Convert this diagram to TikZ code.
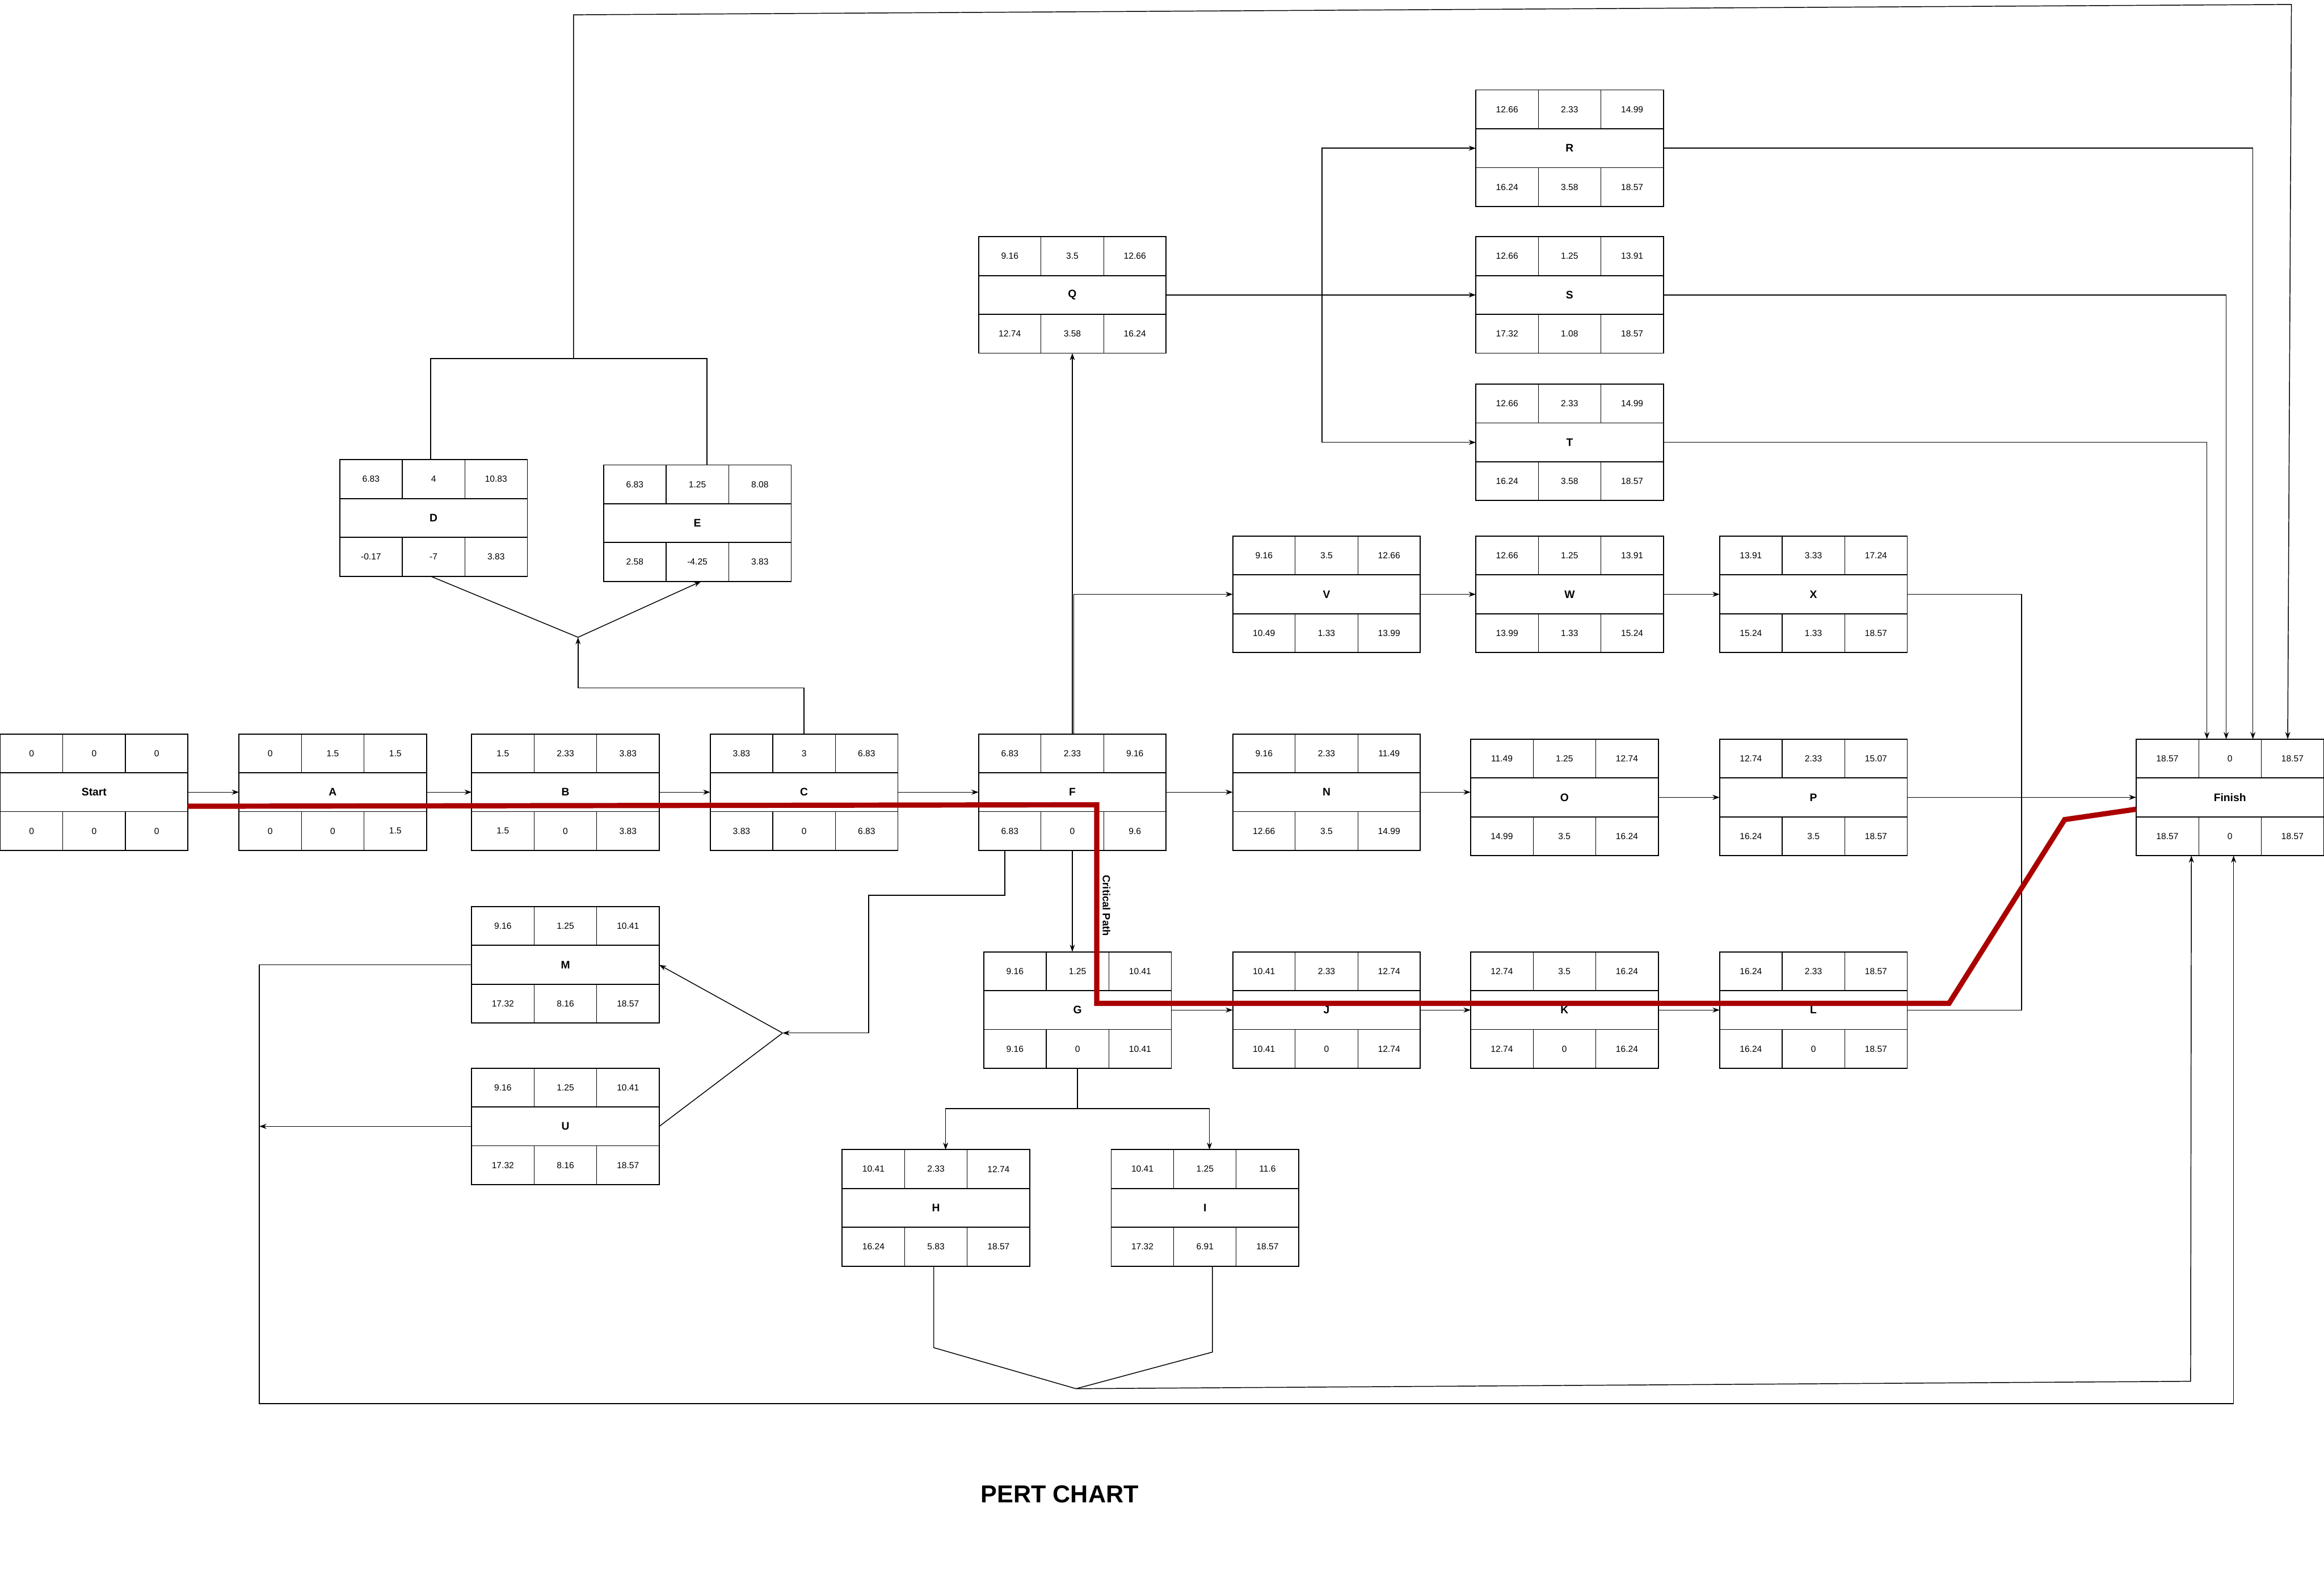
\documentclass[tikz,border=0pt]{standalone}
\usepackage{fontspec}
\setmainfont{Liberation Sans}
\definecolor{critred}{RGB}{170,0,0}
\usetikzlibrary{arrows.meta,calc}

\tikzset{
  pbox/.style={draw, line width=1pt, minimum width=6.33cm, minimum height=3.93cm,
    inner sep=0pt, outer sep=0pt, font=\fontsize{10.5}{12}\selectfont\bfseries},
  rowline/.style={line width=1pt},
  colline/.style={line width=0.6pt},
  num/.style={inner sep=0pt, font=\fontsize{8.5}{10}\selectfont},
  link/.style={line width=0.8pt},
  arr/.style={link, -{Stealth[length=2.4mm,width=1.7mm]}},
  crit/.style={draw=critred, line width=5pt, line join=miter},
  critlabel/.style={fill=white, inner sep=1pt, font=\fontsize{10}{12}\selectfont\bfseries},
  charttitle/.style={font=\fontsize{23.5}{26}\selectfont\bfseries}
}

% activity box: name, centre, label, ES, D, EF, LS, S, LF
\newcommand{\pertbox}[9]{%
  \node[pbox] (#1) at #2 {#3};
  \begin{scope}[shift={(#1.center)}]
    \draw[rowline] (-63.3,-13.1) -- (63.3,-13.1) (-63.3,13.1) -- (63.3,13.1);
    \draw[colline] (-21.1,-39.3) -- (-21.1,-13.1) (21.1,-39.3) -- (21.1,-13.1)
                   (-21.1,13.1) -- (-21.1,39.3) (21.1,13.1) -- (21.1,39.3);
    \node[num] (#1-1) at (-42.2,-26.2) {#4};
    \node[num] (#1-2) at (0,-26.2) {#5};
    \node[num] (#1-3) at (42.2,-26.2) {#6};
    \node[num] (#1-4) at (-42.2,26.2) {#7};
    \node[num] (#1-5) at (0,26.2) {#8};
    \node[num] (#1-6) at (42.2,26.2) {#9};
  \end{scope}}

\begin{document}
\begin{tikzpicture}[x=0.05cm, y=-0.05cm]
  \useasboundingbox (0,0) rectangle (1568,1060);

  % activities
  \pertbox{Start}{(63.5,534.5)}{Start}{0}{0}{0}{0}{0}{0}
  \pertbox{A}{(224.5,534.5)}{A}{0}{1.5}{1.5}{0}{0}{1.5}
  \pertbox{B}{(381.5,534.5)}{B}{1.5}{2.33}{3.83}{1.5}{0}{3.83}
  \pertbox{C}{(542.5,534.5)}{C}{3.83}{3}{6.83}{3.83}{0}{6.83}
  \pertbox{F}{(723.5,534.5)}{F}{6.83}{2.33}{9.16}{6.83}{0}{9.6}
  \pertbox{N}{(895,534.5)}{N}{9.16}{2.33}{11.49}{12.66}{3.5}{14.99}
  \pertbox{O}{(1055.5,538)}{O}{11.49}{1.25}{12.74}{14.99}{3.5}{16.24}
  \pertbox{P}{(1223.5,538)}{P}{12.74}{2.33}{15.07}{16.24}{3.5}{18.57}
  \pertbox{Finish}{(1504.5,538)}{Finish}{18.57}{0}{18.57}{18.57}{0}{18.57}
  \pertbox{D}{(292.5,349.5)}{D}{6.83}{4}{10.83}{-0.17}{-7}{3.83}
  \pertbox{E}{(470.5,353)}{E}{6.83}{1.25}{8.08}{2.58}{-4.25}{3.83}
  \pertbox{Q}{(723.5,199)}{Q}{9.16}{3.5}{12.66}{12.74}{3.58}{16.24}
  \pertbox{R}{(1059,100)}{R}{12.66}{2.33}{14.99}{16.24}{3.58}{18.57}
  \pertbox{S}{(1059,199)}{S}{12.66}{1.25}{13.91}{17.32}{1.08}{18.57}
  \pertbox{T}{(1059,298.5)}{T}{12.66}{2.33}{14.99}{16.24}{3.58}{18.57}
  \pertbox{V}{(895,401)}{V}{9.16}{3.5}{12.66}{10.49}{1.33}{13.99}
  \pertbox{W}{(1059,401)}{W}{12.66}{1.25}{13.91}{13.99}{1.33}{15.24}
  \pertbox{X}{(1223.5,401)}{X}{13.91}{3.33}{17.24}{15.24}{1.33}{18.57}
  \pertbox{M}{(381.5,651)}{M}{9.16}{1.25}{10.41}{17.32}{8.16}{18.57}
  \pertbox{U}{(381.5,760)}{U}{9.16}{1.25}{10.41}{17.32}{8.16}{18.57}
  \pertbox{G}{(727,681.5)}{G}{9.16}{1.25}{10.41}{9.16}{0}{10.41}
  \pertbox{J}{(895,681.5)}{J}{10.41}{2.33}{12.74}{10.41}{0}{12.74}
  \pertbox{K}{(1055.5,681.5)}{K}{12.74}{3.5}{16.24}{12.74}{0}{16.24}
  \pertbox{L}{(1223.5,681.5)}{L}{16.24}{2.33}{18.57}{16.24}{0}{18.57}
  \pertbox{H}{(631.5,815)}{H}{10.41}{2.33}{12.74}{16.24}{5.83}{18.57}
  \pertbox{I}{(813,815)}{I}{10.41}{1.25}{11.6}{17.32}{6.91}{18.57}

  % main chain
  \draw[arr] (Start) -- (A);
  \draw[arr] (A) -- (B);
  \draw[arr] (B) -- (C);
  \draw[arr] (C) -- (F);
  \draw[arr] (F) -- (N);
  \draw[arr] (N.east) -- (N.east -| O.west);
  \draw[arr] (O) -- (P);
  \draw[arr] (P) -- (Finish);

  % C to D and E, then back to Finish
  \coordinate (splitDE) at (390,430);
  \draw[arr] (C.north) -- ++(0,-31) -| (splitDE);
  \draw[link] (splitDE) -- ($(D.south)+(-2,0)$);
  \draw[arr] (splitDE) -- ($(E.south)+(2.5,0)$);
  \coordinate (joinDE) at (387,242);
  \draw[link] ($(D.north)+(-2,0)$) |- (joinDE) -| ($(E.north)+(6.5,0)$);
  \draw[arr] (joinDE) -- (387,10) -- (1546,3) -- ($(Finish.north)+(39,0)$);

  % F to Q and V
  \draw[arr] (F.north) -- (Q.south);
  \draw[arr] ($(F.north)+(1,0)$) |- (V.west);

  % Q to R, S, T
  \coordinate (splitQ) at (892,199);
  \draw[arr] (Q.east) -- (S.west);
  \draw[arr] (splitQ) |- (R.west);
  \draw[arr] (splitQ) |- (T.west);
  \draw[arr] (R.east) -| ($(Finish.north)+(15.5,0)$);
  \draw[arr] (S.east) -| ($(Finish.north)+(-2.5,0)$);
  \draw[arr] (T.east) -| ($(Finish.north)+(-15.5,0)$);

  % V, W, X
  \draw[arr] (V) -- (W);
  \draw[arr] (W) -- (X);
  \coordinate (joinXL) at (1364,538);
  \draw[link] (X.east) -| (joinXL);
  \draw[link] (L.east) -| (joinXL);

  % F to G, M, U
  \draw[arr] (F.south) -- (F.south |- G.north);
  \coordinate (splitMU) at (528,697);
  \draw[arr] ($(F.south)+(-45.5,0)$) |- (586,604) |- (splitMU);
  \draw[arr] (splitMU) -- (M.east);
  \draw[link] (splitMU) -- (U.east);
  \draw[arr] (M.west) -| (175,947) -| ($(Finish.south)+(2.5,0)$);
  \coordinate (endU) at (175,760);
  \draw[arr] (U.west) -- (endU);

  % G, J, K, L
  \draw[arr] (G) -- (J);
  \draw[arr] (J) -- (K);
  \draw[arr] (K) -- (L);

  % G to H and I, then to Finish
  \coordinate (splitHI) at (727,748);
  \draw[link] (G.south) -- (splitHI);
  \draw[arr] (splitHI) -| ($(H.north)+(6.5,0)$);
  \draw[arr] (splitHI) -| ($(I.north)+(3,0)$);
  \coordinate (joinHI) at (726,937);
  \draw[link] ($(H.south)+(-1.5,0)$) -- ++(0,55) -- (joinHI);
  \draw[link] ($(I.south)+(5,0)$) -- ++(0,58) -- (joinHI);
  \draw[arr] (joinHI) -- (1478,932) -- ($(Finish.south)+(-26,0)$);

  % critical path
  \draw[crit] ($(Start.east)+(0,9.5)$) -- (740,543) -- (740,677) -- (1315,677)
    -- (1393,553) -- ($(Finish.west)+(0,8)$);
  \node[critlabel, rotate=-90] (critlbl) at (746.5,611) {Critical Path};

  \node[charttitle] (chart) at (715,1008) {PERT CHART};
\end{tikzpicture}
\end{document}
